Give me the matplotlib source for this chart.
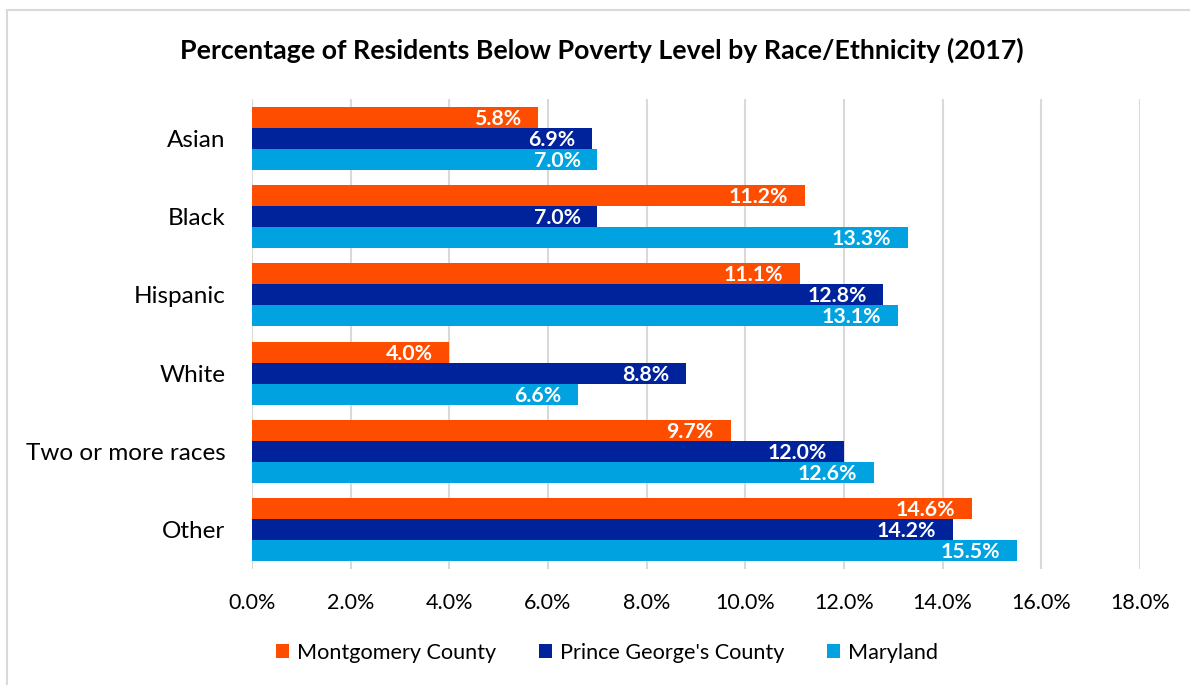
import matplotlib
matplotlib.use("Agg")
import matplotlib.pyplot as plt
import numpy as np
from matplotlib.patches import Rectangle

categories = ["Asian", "Black", "Hispanic", "White", "Two or more races", "Other"]
series_names = ["Montgomery County", "Prince George's County", "Maryland"]
montgomery = [5.8, 11.2, 11.1, 4.0, 9.7, 14.6]
prince_georges = [6.9, 7.0, 12.8, 8.8, 12.0, 14.2]
maryland = [7.0, 13.3, 13.1, 6.6, 12.6, 15.5]
colors = ["#FF4D00", "#00239C", "#00A3E0"]
xticks = [0, 2, 4, 6, 8, 10, 12, 14, 16, 18]

plt.rcParams['font.family'] = ['Lato', 'DejaVu Sans']

W, H = 1190, 685
fig = plt.figure(figsize=(W / 100, H / 100), dpi=100)
ax = fig.add_axes([252 / W, 1 - 569 / H, (1140 - 252) / W, (569 - 99) / H])

# border of chart area
fig.patches.append(Rectangle((7 / W, -0.1), 1.2, 1 - 10 / H + 0.1, transform=fig.transFigure,
                             fill=False, edgecolor="#D9D9D9", linewidth=1.5))

y = np.arange(len(categories))
h = 0.268
series = [montgomery, prince_georges, maryland]
for i, (vals, c, name) in enumerate(zip(series, colors, series_names)):
    ypos = y + (i - 1) * h
    bars = ax.barh(ypos, vals, height=h, color=c, label=name, zorder=3)
    for b, v in zip(bars, vals):
        ax.annotate(f"{v:.1f}%", xy=(v, b.get_y() + b.get_height() / 2),
                    xytext=(-12, -1), textcoords="offset points", ha="right", va="center",
                    color="white", fontsize=15.3, fontweight="bold", zorder=4)

ax.set_xlim(0, 18)
ax.set_ylim(len(categories) - 0.5, -0.5)
ax.set_xticks(xticks)
ax.set_xticklabels([f"{t:.1f}%" for t in xticks], fontsize=15.5)
ax.set_yticks(y)
ax.set_yticklabels(categories, fontsize=17.5)
ax.tick_params(axis="both", length=0)
ax.tick_params(axis="y", pad=19)
ax.tick_params(axis="x", pad=17)
ax.grid(axis="x", color="#D9D9D9", linewidth=1.5, zorder=0)
for s in ax.spines.values():
    s.set_visible(False)

fig.text(602 / W, 1 - 50 / H, "Percentage of Residents Below Poverty Level by Race/Ethnicity (2017)",
         ha="center", va="center", fontsize=19.3, fontweight="bold", color="black")

leg = fig.legend(loc="center", bbox_to_anchor=(607 / W, 1 - 653 / H), ncol=3, frameon=False,
                 fontsize=15.6, handlelength=0.6, handleheight=0.6, handletextpad=0.35,
                 columnspacing=2.0)

fig.savefig("out.png", dpi=100)
